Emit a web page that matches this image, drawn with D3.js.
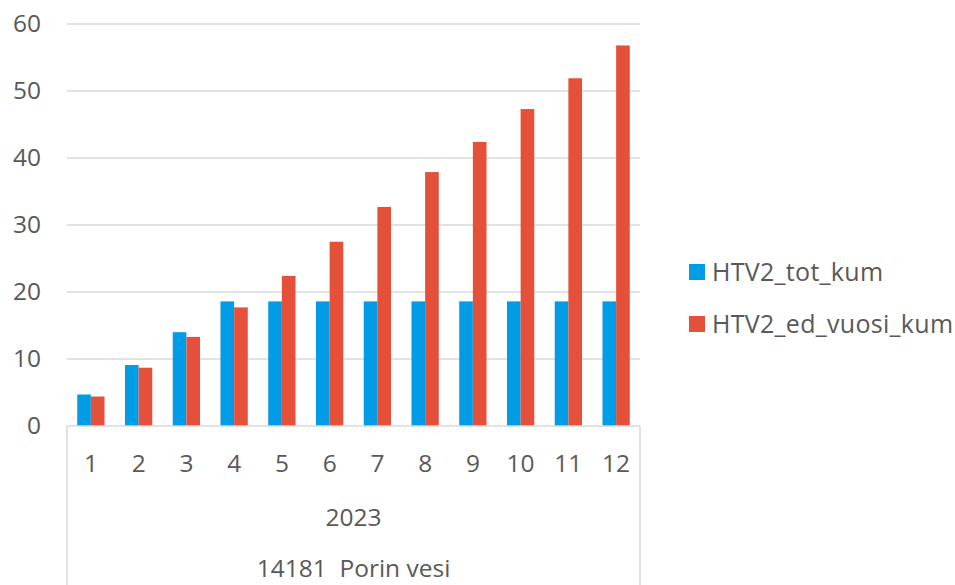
<!DOCTYPE html>
<html>
<head>
<meta charset="utf-8">
<script src="https://cdn.jsdelivr.net/npm/d3@7"></script>
<style>
  html, body { margin: 0; padding: 0; background: #fff; }
  svg { display: block; }
  text { font-family: "Open Sans", "Noto Sans", sans-serif; fill: #595959; white-space: pre; }
</style>
</head>
<body>
<svg id="chart" width="955" height="585"></svg>
<script>
const months = ["1","2","3","4","5","6","7","8","9","10","11","12"];
const yearLabel = "2023";
const groupLabel = "14181  Porin vesi";
const seriesNames = ["HTV2_tot_kum", "HTV2_ed_vuosi_kum"];
const seriesColors = ["#009DE6", "#E5503A"];
const totKum = [4.7, 9.1, 14.0, 18.6, 18.6, 18.6, 18.6, 18.6, 18.6, 18.6, 18.6, 18.6];
const edVuosiKum = [4.4, 8.7, 13.3, 17.7, 22.4, 27.5, 32.7, 37.9, 42.4, 47.3, 51.9, 56.8];
const yTicks = [0, 10, 20, 30, 40, 50, 60];

const svg = d3.select("#chart");
const plotLeft = 67, plotRight = 640, plotTop = 24, plotBottom = 426;
const fs = 24.5;

const x = d3.scaleBand().domain(months).range([plotLeft, plotRight]).paddingInner(0).paddingOuter(0);
const y = d3.scaleLinear().domain([0, 60]).range([plotBottom, plotTop]);

// Gridlines
svg.append("g").selectAll("line").data(yTicks.filter(d => d > 0)).join("line")
  .attr("x1", plotLeft).attr("x2", plotRight)
  .attr("y1", d => y(d)).attr("y2", d => y(d))
  .attr("stroke", "#d9d9d9").attr("stroke-width", 1.5);

// Y axis labels
const yAxis = d3.axisLeft(y).tickValues(yTicks).tickSize(0).tickPadding(0);
const gy = svg.append("g").attr("transform", `translate(41,0)`).call(yAxis);
gy.select(".domain").remove();
gy.selectAll("text").attr("font-size", fs).attr("fill", "#595959")
  .style("font-family", '"Open Sans", sans-serif');

// Bars
const barW = x.bandwidth() / 3.5;
const series = [totKum, edVuosiKum];
series.forEach((vals, si) => {
  svg.append("g").selectAll("rect").data(vals).join("rect")
    .attr("x", (d, i) => x(months[i]) + x.bandwidth() / 2 - barW + si * barW)
    .attr("width", barW)
    .attr("y", d => y(d))
    .attr("height", d => y(0) - y(d))
    .attr("fill", seriesColors[si]);
});

// X axis line and category boundaries
svg.append("line").attr("x1", plotLeft).attr("x2", plotRight).attr("y1", plotBottom).attr("y2", plotBottom)
  .attr("stroke", "#d9d9d9").attr("stroke-width", 1.5);
[plotLeft, plotRight].forEach(xx => {
  svg.append("line").attr("x1", xx).attr("x2", xx).attr("y1", plotBottom).attr("y2", 585)
    .attr("stroke", "#d9d9d9").attr("stroke-width", 1.5);
});

// X labels (month)
const xAxis = d3.axisBottom(x).tickSize(0).tickPadding(0);
const gx = svg.append("g").attr("transform", `translate(0,${plotBottom})`).call(xAxis);
gx.select(".domain").remove();
gx.selectAll("text").attr("font-size", fs).attr("fill", "#595959")
  .attr("dy", null).attr("y", 46)
  .style("font-family", '"Open Sans", sans-serif');

svg.append("text").attr("x", (plotLeft + plotRight) / 2).attr("y", 526)
  .attr("text-anchor", "middle").attr("font-size", fs).text(yearLabel);
svg.append("text").attr("x", (plotLeft + plotRight) / 2).attr("y", 577)
  .attr("text-anchor", "middle").attr("font-size", fs).text(groupLabel);

// Legend
const legend = svg.append("g");
seriesNames.forEach((name, i) => {
  const cy = 272 + i * 52;
  legend.append("rect").attr("x", 689).attr("y", cy - 8).attr("width", 16).attr("height", 16)
    .attr("fill", seriesColors[i]);
  legend.append("text").attr("x", 712).attr("y", cy + 8.5).attr("font-size", 25)
    .attr("letter-spacing", 0.3).text(name);
});
</script>
</body>
</html>
